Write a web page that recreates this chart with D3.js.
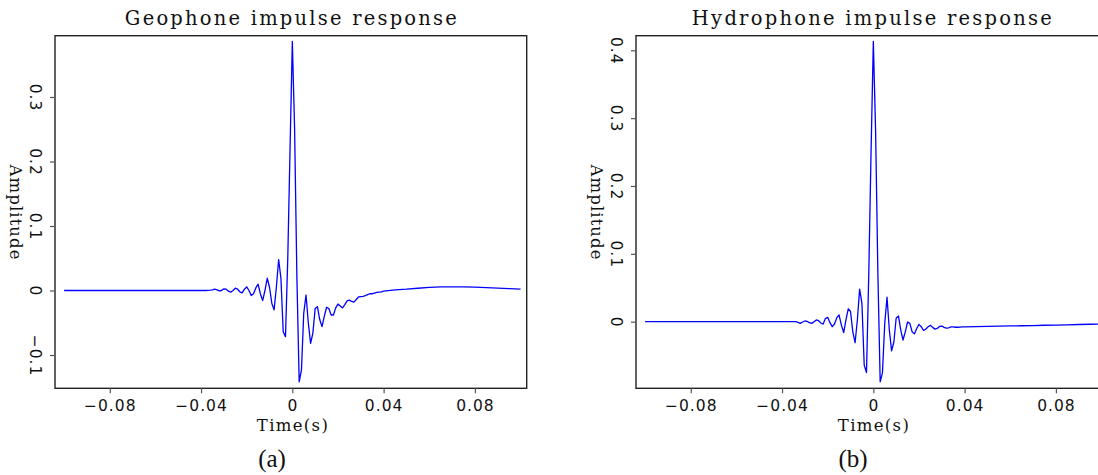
<!DOCTYPE html>
<html>
<head>
<meta charset="utf-8">
<script src="https://cdn.jsdelivr.net/npm/d3@7"></script>
<style>
  html, body { margin: 0; padding: 0; background: #fff; }
  svg { display: block; }
</style>
</head>
<body>
<div id="chart"></div>
<script>
// ---- data ----
const times = [
  -0.100, -0.095, -0.090, -0.085, -0.080, -0.075, -0.070, -0.065, -0.060, -0.055, -0.050, -0.045, -0.040,
  -0.039, -0.038, -0.037, -0.036, -0.035, -0.034, -0.033, -0.032, -0.031, -0.030,
  -0.029, -0.028, -0.027, -0.026, -0.025, -0.024, -0.023, -0.022, -0.021, -0.020,
  -0.019, -0.018, -0.017, -0.016, -0.015, -0.014, -0.013, -0.012, -0.011, -0.010,
  -0.009, -0.008, -0.007, -0.006, -0.005, -0.004, -0.003, -0.002, -0.001, 0.000,
  0.001, 0.002, 0.003, 0.004, 0.005, 0.006, 0.007, 0.008, 0.009, 0.010,
  0.011, 0.012, 0.013, 0.014, 0.015, 0.016, 0.017, 0.018, 0.019, 0.020,
  0.021, 0.022, 0.023, 0.024, 0.025, 0.026, 0.027, 0.028, 0.029, 0.030,
  0.031, 0.032, 0.033, 0.034, 0.035, 0.036, 0.037, 0.038, 0.039, 0.040,
  0.045, 0.050, 0.055, 0.060, 0.065, 0.070, 0.075, 0.080, 0.085, 0.090, 0.095, 0.100
];

const geophone = [
  0, 0, 0, 0, 0, 0, 0, 0, 0, 0, 0, 0, 0,
  0, 0, 0.0003, 0.0005, 0.001, 0.002, 0.001, -0.0005, 0.0, 0.0026,
  0.002, -0.001, -0.0026, 0.0, 0.0036, 0.002, -0.002, -0.0036, 0.002, 0.0057,
  0.0, -0.0078, -0.005, 0.004, 0.0098, -0.005, -0.0156, 0.0, 0.019, 0.005,
  -0.0197, -0.030, 0.005, 0.048, 0.019, -0.064, -0.0715, 0.05, 0.22, 0.386,
  0.25, 0.02, -0.1415, -0.123, -0.035, -0.007, -0.05, -0.082, -0.066, -0.028,
  -0.025, -0.045, -0.056, -0.04, -0.026, -0.028, -0.038, -0.038, -0.027, -0.021,
  -0.024, -0.027, -0.022, -0.016, -0.015, -0.017, -0.018, -0.014, -0.010, -0.0095,
  -0.009, -0.008, -0.0065, -0.005, -0.005, -0.004, -0.003, -0.0025, -0.002, -0.001,
  0.001, 0.002, 0.0035, 0.0047, 0.0055, 0.0057, 0.0055, 0.0052, 0.0045, 0.0036, 0.0028, 0.002
];

const hydrophone = [
  0, 0, 0, 0, 0, 0, 0, 0, 0, 0, 0, 0, 0,
  0, 0, 0, 0, 0, 0.0, -0.001, -0.0025, -0.0005, 0.001,
  0.0005, -0.0015, -0.0025, 0.0, 0.0025, 0.0015, -0.002, -0.0035, 0.0045, 0.0064,
  -0.0015, -0.0074, -0.0035, 0.006, 0.0098, -0.005, -0.016, 0.0025, 0.019, 0.015,
  -0.015, -0.031, 0.0025, 0.048, 0.027, -0.064, -0.075, 0.07, 0.25, 0.413,
  0.28, 0.07, -0.0887, -0.075, -0.0025, 0.036, -0.012, -0.043, -0.03, 0.005,
  0.0084, -0.012, -0.027, -0.015, -0.0005, -0.0025, -0.015, -0.018, -0.01, -0.004,
  -0.0074, -0.013, -0.011, -0.0074, -0.0054, -0.0084, -0.011, -0.01, -0.007, -0.0064,
  -0.0084, -0.0095, -0.009, -0.0078, -0.0078, -0.0082, -0.0082, -0.008, -0.0078, -0.0076,
  -0.0073, -0.007, -0.0067, -0.0063, -0.006, -0.0057, -0.0053, -0.005, -0.0046, -0.0042, -0.0038, -0.0034
];

const xTicks = [-0.08, -0.04, 0, 0.04, 0.08];
const geoYTicks = [-0.1, 0, 0.1, 0.2, 0.3];
const hydYTicks = [0, 0.1, 0.2, 0.3, 0.4];
const titles = ["Geophone impulse response", "Hydrophone impulse response"];
const captions = ["(a)", "(b)"];
const xLabel = "Time(s)";
const yLabel = "Amplitude";

// ---- layout ----
const W = 1098, H = 475;
const svg = d3.select("#chart").append("svg").attr("width", W).attr("height", H);

const TITLE_FONT = "'DejaVu Serif', serif";
const TICK_FONT = "'DejaVu Sans', sans-serif";

const panels = [
  { left: 55, values: geophone, yDomain: [-0.1516, 0.395], yTicks: geoYTicks,
    title: titles[0], titleLen: 332, caption: captions[0], capX: 272 },
  { left: 636, values: hydrophone, yDomain: [-0.0982, 0.4215], yTicks: hydYTicks,
    title: titles[1], titleLen: 360, caption: captions[1], capX: 853 }
];

const boxTop = 35.7, boxBottom = 388.3, boxW = 471.7;

function fmtX(d) { return d === 0 ? "0" : d3.format(".2f")(d); }
function fmtY(d) { return d === 0 ? "0" : d3.format(".1f")(d); }

panels.forEach(p => {
  const x = d3.scaleLinear().domain([-0.104, 0.1027]).range([p.left, p.left + boxW]);
  const y = d3.scaleLinear().domain(p.yDomain).range([boxBottom, boxTop]);
  const g = svg.append("g");

  // data line
  const pts = times.map((t, i) => [t, p.values[i]]);
  g.append("path")
    .datum(pts)
    .attr("fill", "none")
    .attr("stroke", "#0000ff")
    .attr("stroke-width", 1.3)
    .attr("stroke-linejoin", "round")
    .attr("d", d3.line().x(d => x(d[0])).y(d => y(d[1])));

  // box
  g.append("rect")
    .attr("x", p.left).attr("y", boxTop)
    .attr("width", boxW).attr("height", boxBottom - boxTop)
    .attr("fill", "none").attr("stroke", "#222").attr("stroke-width", 1.4);

  // x axis
  const xa = g.append("g").attr("transform", `translate(0,${boxBottom})`)
    .call(d3.axisBottom(x).tickValues(xTicks).tickSize(5).tickSizeOuter(0).tickFormat(fmtX));
  xa.select(".domain").remove();
  xa.selectAll(".tick line").attr("stroke", "#555").attr("stroke-width", 1.2);
  xa.selectAll(".tick text")
    .attr("y", 0).attr("dy", 0)
    .attr("transform", "translate(0,22.6)")
    .attr("font-family", TICK_FONT).attr("font-size", 15.5)
    .attr("letter-spacing", 1.0)
    .attr("fill", "#111");

  // y axis
  const ya = g.append("g").attr("transform", `translate(${p.left},0)`)
    .call(d3.axisLeft(y).tickValues(p.yTicks).tickSize(5).tickSizeOuter(0).tickFormat(fmtY));
  ya.select(".domain").remove();
  ya.selectAll(".tick line").attr("stroke", "#555").attr("stroke-width", 1.2);
  ya.selectAll(".tick text")
    .attr("x", 0).attr("dy", "0.36em")
    .attr("text-anchor", "middle")
    .attr("transform", "translate(-19,0) rotate(90)")
    .attr("font-family", TICK_FONT).attr("font-size", 15.5)
    .attr("letter-spacing", 1.0)
    .attr("fill", "#111");

  const cx = p.left + boxW / 2;

  // title
  g.append("text")
    .attr("x", cx).attr("y", 25)
    .attr("text-anchor", "middle")
    .attr("font-family", TITLE_FONT).attr("font-size", 19.5)
    .attr("textLength", p.titleLen).attr("lengthAdjust", "spacing")
    .attr("fill", "#111")
    .text(p.title);

  // x label
  g.append("text")
    .attr("x", x(0)).attr("y", 431)
    .attr("text-anchor", "middle")
    .attr("font-family", TITLE_FONT).attr("font-size", 16.5)
    .attr("textLength", 71).attr("lengthAdjust", "spacing")
    .attr("fill", "#111")
    .text(xLabel);

  // y label
  g.append("text")
    .attr("transform", `translate(${p.left - 39},${(boxTop + boxBottom) / 2}) rotate(90)`)
    .attr("text-anchor", "middle").attr("dy", "0.36em")
    .attr("font-family", TITLE_FONT).attr("font-size", 16.5)
    .attr("textLength", 95).attr("lengthAdjust", "spacing")
    .attr("fill", "#111")
    .text(yLabel);

  // caption
  g.append("text")
    .attr("x", p.capX).attr("y", 467)
    .attr("text-anchor", "middle")
    .attr("font-family", "'Liberation Serif', serif").attr("font-size", 25)
    .attr("fill", "#111")
    .text(p.caption);
});
</script>
</body>
</html>
